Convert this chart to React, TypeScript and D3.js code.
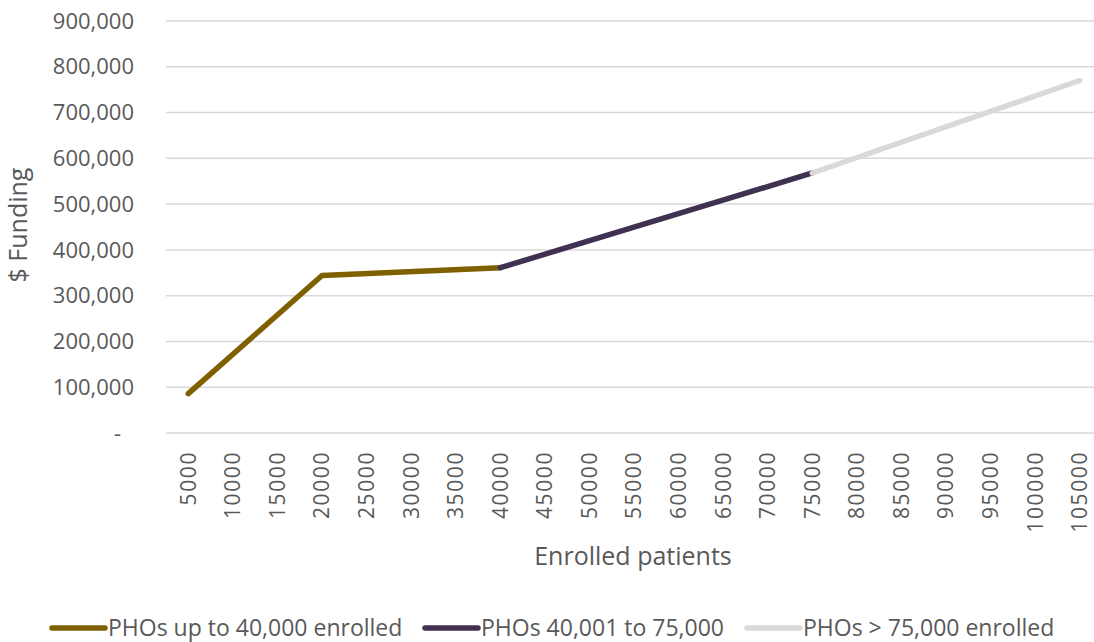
import React from "react";
import * as d3 from "d3";

// Enrolment bands on the category axis
const categories: number[] = [
  5000, 10000, 15000, 20000, 25000, 30000, 35000, 40000, 45000, 50000, 55000,
  60000, 65000, 70000, 75000, 80000, 85000, 90000, 95000, 100000, 105000,
];

// Funding formula break points for each PHO size band
const upTo40kX: number[] = [5000, 20000, 40000];
const upTo40kY: number[] = [86000, 344000, 361000];

const mid40to75kX: number[] = [40000, 75000];
const mid40to75kY: number[] = [361000, 568000];

const over75kX: number[] = [75000, 105000];
const over75kY: number[] = [568000, 770000];

const yTicks: number[] = [0, 100000, 200000, 300000, 400000, 500000, 600000, 700000, 800000, 900000];

const seriesNames: string[] = [
  "PHOs up to 40,000 enrolled",
  "PHOs 40,001 to 75,000",
  "PHOs > 75,000 enrolled",
];
const seriesColors: string[] = ["#7F6000", "#403151", "#D9D9D9"];

const W = 1094;
const H = 642;
const FONT = "'Open Sans', 'Noto Sans', sans-serif";
const TEXT = "#595959";

export default function App() {
  const x = d3
    .scalePoint<number>()
    .domain(categories)
    .range([166, 1102])
    .padding(0.5);
  const y = d3.scaleLinear().domain([0, 900000]).range([433, 21]);

  const line = d3
    .line<[number, number]>()
    .x((d) => x(d[0]) as number)
    .y((d) => y(d[1]));

  const series: [number, number][][] = [
    upTo40kX.map((v, i) => [v, upTo40kY[i]]),
    mid40to75kX.map((v, i) => [v, mid40to75kY[i]]),
    over75kX.map((v, i) => [v, over75kY[i]]),
  ];

  const fmt = d3.format(",");
  const legendX = [52, 425, 747];
  const legendY = 628;

  return (
    <svg
      width={W}
      height={H}
      style={{ position: "absolute", left: 0, top: 0, background: "#fff" }}
      fontFamily={FONT}
    >
      {/* horizontal gridlines */}
      {yTicks.map((t) => (
        <line
          key={"g" + t}
          x1={166}
          x2={1102}
          y1={y(t)}
          y2={y(t)}
          stroke="#D9D9D9"
          strokeWidth={1.5}
        />
      ))}

      {/* y tick labels */}
      {yTicks.map((t) => (
        <text
          key={"yt" + t}
          x={t === 0 ? 121 : 134}
          y={y(t)}
          dy="0.35em"
          textAnchor="end"
          fontSize={22}
          fill={TEXT}
        >
          {t === 0 ? "-" : fmt(t)}
        </text>
      ))}

      {/* x tick labels, rotated */}
      {categories.map((c) => (
        <text
          key={"xt" + c}
          transform={`translate(${x(c)},451) rotate(-90)`}
          textAnchor="end"
          dy="0.35em"
          fontSize={21}
          letterSpacing={1.6}
          fill={TEXT}
        >
          {String(c)}
        </text>
      ))}

      {/* axis titles */}
      <text
        x={633}
        y={565}
        textAnchor="middle"
        fontSize={25}
        fill={TEXT}
      >
        Enrolled patients
      </text>
      <text
        transform={`translate(27,225) rotate(-90)`}
        textAnchor="middle"
        fontSize={25}
        fill={TEXT}
      >
        $ Funding
      </text>

      {/* series lines */}
      {series.map((pts, i) => (
        <path
          key={"s" + i}
          d={line(pts) || ""}
          fill="none"
          stroke={seriesColors[i]}
          strokeWidth={5.5}
          strokeLinecap="round"
          strokeLinejoin="round"
        />
      ))}

      {/* legend */}
      {seriesNames.map((name, i) => (
        <g key={"l" + i} transform={`translate(${legendX[i]},${legendY})`}>
          <line
            x1={0}
            x2={53}
            y1={0}
            y2={0}
            stroke={seriesColors[i]}
            strokeWidth={5.5}
            strokeLinecap="round"
          />
          <text x={56} y={0} dy="0.35em" fontSize={23} fill={TEXT}>
            {name}
          </text>
        </g>
      ))}
    </svg>
  );
}
